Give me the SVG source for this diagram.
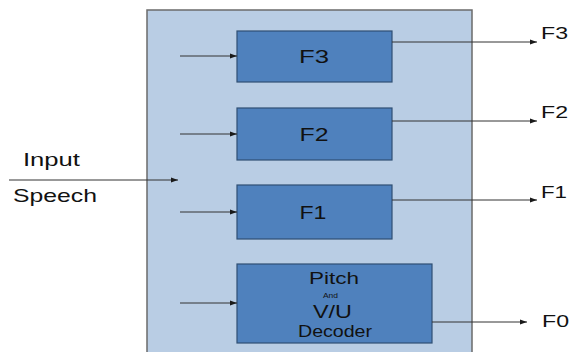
<svg xmlns="http://www.w3.org/2000/svg" width="569" height="352" viewBox="0 0 569 352">
  <defs>
    <marker id="arrow" markerWidth="8" markerHeight="6" refX="7" refY="3" orient="auto" markerUnits="userSpaceOnUse">
      <path d="M0,0.5 L7,3 L0,5.5 Z" fill="#1a1a1a"/>
    </marker>
    <style>
      .frame { fill: #b9cde4; stroke: #6b6b6b; stroke-width: 1.5; }
      .block { fill: #4f81bd; stroke: #2f4f73; stroke-width: 1.2; }
      .line { stroke: #333; stroke-width: 1; fill: none; marker-end: url(#arrow); }
      .label { font-family: "Liberation Sans", Arial, sans-serif; fill: #111; }
      .mid { text-anchor: middle; }
    </style>
  </defs>
  <rect width="569" height="352" fill="#fff"/>

  <g id="frame">
    <rect class="frame" x="147" y="10" width="325" height="350"/>
  </g>

  <g id="f3">
    <rect class="block" x="237" y="31" width="155" height="51"/>
    <text class="label mid" x="314" y="63" font-size="19" textLength="30" lengthAdjust="spacingAndGlyphs">F3</text>
  </g>
  <g id="f2">
    <rect class="block" x="237" y="108" width="155" height="52"/>
    <text class="label mid" x="314" y="141" font-size="19" textLength="29" lengthAdjust="spacingAndGlyphs">F2</text>
  </g>
  <g id="f1">
    <rect class="block" x="237" y="185" width="155" height="54"/>
    <text class="label mid" x="313" y="219" font-size="19" textLength="27" lengthAdjust="spacingAndGlyphs">F1</text>
  </g>
  <g id="f0">
    <rect class="block" x="237" y="264" width="195" height="79"/>
    <text class="label mid" x="334" y="284" font-size="16" textLength="50" lengthAdjust="spacingAndGlyphs">Pitch</text>
    <text class="label mid" x="330.5" y="298" font-size="7" textLength="15" lengthAdjust="spacingAndGlyphs">And</text>
    <text class="label mid" x="332.5" y="318" font-size="19" textLength="39" lengthAdjust="spacingAndGlyphs">V/U</text>
    <text class="label mid" x="335" y="337" font-size="16" textLength="74" lengthAdjust="spacingAndGlyphs">Decoder</text>
  </g>

  <g id="speech">
    <text class="label" x="23" y="166" font-size="19" textLength="57" lengthAdjust="spacingAndGlyphs">Input</text>
    <text class="label" x="13" y="202" font-size="19" textLength="84" lengthAdjust="spacingAndGlyphs">Speech</text>
  </g>

  <g id="outputs">
    <text class="label" x="541" y="39" font-size="17" textLength="27" lengthAdjust="spacingAndGlyphs">F3</text>
    <text class="label" x="541" y="118" font-size="17" textLength="27" lengthAdjust="spacingAndGlyphs">F2</text>
    <text class="label" x="541" y="198" font-size="17" textLength="26" lengthAdjust="spacingAndGlyphs">F1</text>
    <text class="label" x="542" y="327" font-size="17" textLength="27" lengthAdjust="spacingAndGlyphs">F0</text>
  </g>

  <g id="connectors">
    <line class="line" x1="9" y1="180" x2="178" y2="180"/>
    <line class="line" x1="180" y1="56" x2="237" y2="56"/>
    <line class="line" x1="180" y1="134" x2="237" y2="134"/>
    <line class="line" x1="180" y1="212" x2="237" y2="212"/>
    <line class="line" x1="180" y1="303" x2="237" y2="303"/>
    <line class="line" x1="392" y1="42" x2="537" y2="42"/>
    <line class="line" x1="392" y1="121" x2="537" y2="121"/>
    <line class="line" x1="392" y1="200" x2="537" y2="200"/>
    <line class="line" x1="432" y1="322" x2="527" y2="322"/>
  </g>
</svg>
